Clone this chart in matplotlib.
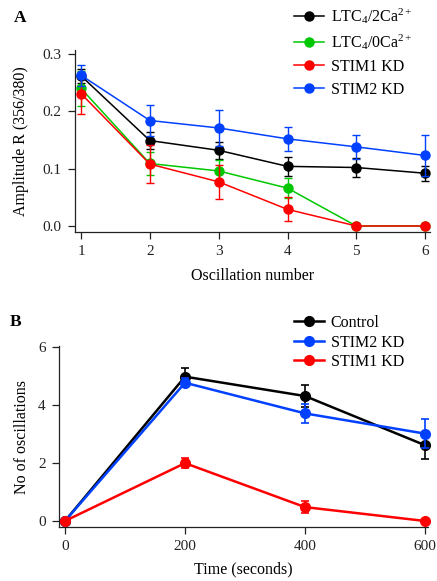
import matplotlib
matplotlib.use('Agg')
import matplotlib.pyplot as plt
from matplotlib.lines import Line2D
import numpy as np

plt.rcParams['font.family'] = ['Liberation Serif', 'DejaVu Serif']
plt.rcParams['mathtext.fontset'] = 'custom'
plt.rcParams['mathtext.rm'] = 'Liberation Serif'
plt.rcParams['mathtext.it'] = 'Liberation Serif:italic'

# Panel A data
osc = [1, 2, 3, 4, 5, 6]
ltc_2ca = [0.262, 0.149, 0.132, 0.104, 0.102, 0.092]
ltc_2ca_err = [0.012, 0.015, 0.015, 0.016, 0.016, 0.013]
ltc_0ca = [0.240, 0.109, 0.096, 0.066, 0.0, 0.0]
ltc_0ca_err = [0.030, 0.020, 0.019, 0.017, 0.0, 0.0]
stim1_a = [0.231, 0.108, 0.077, 0.029, 0.0, 0.0]
stim1_a_err = [0.035, 0.033, 0.030, 0.021, 0.0, 0.0]
stim2_a = [0.263, 0.184, 0.171, 0.152, 0.138, 0.123]
stim2_a_err = [0.018, 0.027, 0.032, 0.021, 0.021, 0.035]

# Panel B data
time_s = [0, 200, 400, 600]
control = [0.0, 4.99, 4.32, 2.62]
control_err = [0.0, 0.30, 0.38, 0.47]
stim2_b = [0.0, 4.78, 3.72, 3.02]
stim2_b_err = [0.0, 0.15, 0.33, 0.51]
stim1_b = [0.0, 2.0, 0.48, 0.0]
stim1_b_err = [0.0, 0.18, 0.22, 0.0]

black = 'black'
green = '#00c800'
red = '#ff0000'
blue = '#0040ff'

fig = plt.figure(figsize=(4.37, 5.81), dpi=100)


def style(ax):
    ax.spines['top'].set_visible(False)
    ax.spines['right'].set_visible(False)
    for s in ['left', 'bottom']:
        ax.spines[s].set_linewidth(0.9)
        ax.spines[s].set_color('#222222')
    ax.tick_params(direction='out', length=5, width=0.9, labelsize=11, pad=4.5,
                   colors='#222222', labelcolor='#222222')


# ---- panel A
ax1 = fig.add_axes([75/437, 1-232/581, 355/437, 182/581])
series_a = [(ltc_2ca, ltc_2ca_err, black, r'LTC$_4$/2Ca$^{2+}$'),
            (ltc_0ca, ltc_0ca_err, green, r'LTC$_4$/0Ca$^{2+}$'),
            (stim1_a, stim1_a_err, red, 'STIM1 KD'),
            (stim2_a, stim2_a_err, blue, 'STIM2 KD')]
handles_a = []
for i, (y, e, c, lab) in enumerate(series_a):
    ax1.errorbar(osc, y, yerr=e, color=c, lw=1.1, marker='o', ms=6.5,
                 capsize=3, elinewidth=1.0, capthick=1.0,
                 clip_on=False, zorder=3+i)
    handles_a.append(Line2D([], [], color=c, lw=1.1, marker='o', ms=6.5, label=lab))
ax1.set_xlim(0.913, 6.07)
ax1.set_ylim(-0.0105, 0.307)
ax1.set_xticks(osc)
ax1.set_yticks([0.0, 0.1, 0.2, 0.3])
ax1.set_yticklabels(['0.0', '0.1', '0.2', '0.3'])
ax1.set_xlabel('Oscillation number', fontsize=11.5, labelpad=7)
ax1.set_ylabel('Amplitude R (356/380)', fontsize=11.5, labelpad=10)
style(ax1)
fig.legend(handles=handles_a, loc='upper left', bbox_to_anchor=(294/437, 1-6/581),
           frameon=False, fontsize=11.5, handlelength=1.85, handletextpad=0.45,
           labelspacing=0.42, borderaxespad=0, borderpad=0)
fig.text(14/437, 1-22/581, 'A', fontsize=12.5, fontweight='bold')

# ---- panel B
ax2 = fig.add_axes([59/437, 1-527/581, 369/437, 181/581])
series_b = [(control, control_err, black, 'Control'),
            (stim2_b, stim2_b_err, blue, 'STIM2 KD'),
            (stim1_b, stim1_b_err, red, 'STIM1 KD')]
handles_b = []
for i, (y, e, c, lab) in enumerate(series_b):
    ax2.errorbar(time_s, y, yerr=e, color=c, lw=1.8, marker='o', ms=7,
                 capsize=3, elinewidth=1.2, capthick=1.2,
                 clip_on=False, zorder=3+i)
    handles_b.append(Line2D([], [], color=c, lw=1.8, marker='o', ms=7, label=lab))
ax2.set_xlim(-10, 605)
ax2.set_ylim(-0.208, 6.05)
ax2.set_xticks(time_s)
ax2.set_yticks([0, 2, 4, 6])
ax2.set_xlabel('Time (seconds)', fontsize=11.5, labelpad=6)
ax2.set_ylabel('No of oscillations', fontsize=11.5, labelpad=6)
style(ax2)
fig.legend(handles=handles_b, loc='upper left', bbox_to_anchor=(294/437, 1-315/581),
           frameon=False, fontsize=11.5, handlelength=1.85, handletextpad=0.45,
           labelspacing=0.22, borderaxespad=0, borderpad=0)
fig.text(10/437, 1-326/581, 'B', fontsize=12.5, fontweight='bold')

fig.savefig('out.png', dpi=100)
